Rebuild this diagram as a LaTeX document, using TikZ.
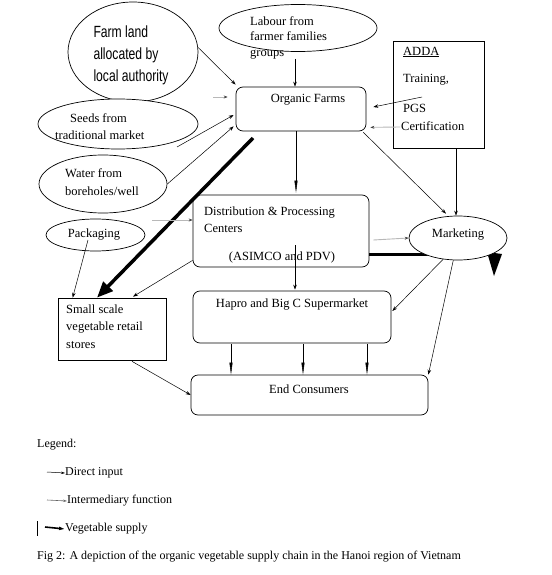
\documentclass[tikz,border=0pt]{standalone}
\usepackage{fontspec}
\setmainfont{Liberation Serif}
\newfontfamily\arialf{Liberation Sans}
\usetikzlibrary{arrows.meta,calc,shapes.geometric}
\begin{document}
\begin{tikzpicture}[x=1pt,y=-1pt,
  every node/.style={font=\fontsize{12.5}{15}\selectfont, inner sep=0pt},
  shp/.style={draw, line width=0.7pt, fill=white},
  ell/.style={shp, ellipse},
  rbox/.style={shp, rectangle, rounded corners=7pt},
  sbox/.style={shp, rectangle},
  txt/.style={anchor=west, align=left},
  legtxt/.style={txt, font=\fontsize{12}{14}\selectfont},
  arr/.style={line width=0.5pt, -{Stealth[length=5pt,width=3.5pt]}},
  larr/.style={line width=0.5pt, -{Triangle[length=12pt,width=3pt]}},
  garr/.style={line width=0.9pt, draw=black!28, -{Stealth[length=4pt,width=3pt,color=black!75]}},
  vsup/.style={line width=3.5pt, -{Triangle[length=16pt,width=13pt]}}
]
\useasboundingbox (0,0) rectangle (551,575);
\fill[white] (0,0) rectangle (551,575);

% inputs
\node[ell, minimum width=130pt, minimum height=100pt] (farm) at (133,52) {};
\node (farmt) at (131,55) {\scalebox{0.9}[1.2]{\arialf\fontsize{13.5}{18.3}\selectfont
      \begin{tabular}{@{}l@{}}Farm land\\allocated by\\local authority\end{tabular}}};
\node[ell, minimum width=158pt, minimum height=47pt] (lab) at (298,28) {};
\node[txt, font=\fontsize{12.5}{15.5}\selectfont] (labt) at (250,37.5)
      {Labour from\\farmer families\\groups};
\node[rbox, minimum width=130pt, minimum height=44pt] (of) at (301,109) {};
\node (oft) at (308,100) {Organic Farms};
\node[sbox, minimum width=91pt, minimum height=107pt] (adda) at (438.5,94.5) {};
\node[txt] (addat) at (403,52) {\underline{ADDA}};
\node[txt] (train) at (403,80) {Training,};
\node[txt] (pgs) at (403,108) {PGS};
\node[txt] (cert) at (401,126) {Certification};
\node[ell, minimum width=160pt, minimum height=50pt] (seeds) at (118,124) {};
\node[txt] (seedt1) at (70,118) {Seeds from};
\node[txt] (seedt2) at (55,135) {traditional market};
\node[ell, minimum width=128pt, minimum height=58pt] (water) at (103,184) {};
\node[txt, font=\fontsize{12.5}{18}\selectfont] (watert) at (65,182)
      {Water from\\boreholes/well};
\node[ell, minimum width=99pt, minimum height=32pt] (pack) at (95.5,235) {};
\node (packt) at (94,235) {Packaging};

% chain
\node[rbox, minimum width=176pt, minimum height=72pt] (dist) at (281,231) {};
\node[txt, font=\fontsize{12.5}{17}\selectfont] (distt) at (204,219.5)
      {Distribution \& Processing\\Centers};
\node (distt2) at (282,257) {(ASIMCO and PDV)};

\coordinate (t2) at (490,254);
\draw[line width=3pt] ($(dist.east)+(0,23)$) -- (t2);
\fill (487,252) -- (502,254) -- (494,276) -- cycle;

\node[ell, minimum width=98pt, minimum height=44pt] (mkt) at (458,238) {};
\node (mktt) at (458,235) {Marketing};
\node[sbox, minimum width=108pt, minimum height=62pt] (small) at (112,329) {};
\node[txt, font=\fontsize{12.5}{17.5}\selectfont] (smallt) at (66,326.5)
      {Small scale\\vegetable retail\\stores};
\node[rbox, minimum width=198pt, minimum height=52pt] (hapro) at (292,317) {};
\node (haprot) at (292,305) {Hapro and Big C Supermarket};
\node[rbox, minimum width=237pt, minimum height=40pt] (endc) at (309.5,395) {};
\node (endct) at (309,389) {End Consumers};

% connectors
\draw[arr] (farm.4) -- ($(of.north west)+(0,-2)$);
\coordinate (g1) at (213,97);
\draw[garr] (g1) -- ($(of.west)+(-8,-12)$);
\coordinate (s1) at (177,147);
\draw[arr] (s1) -- ($(of.west)+(-2,6)$);
\draw[arr] (water.east) -- ($(of.south west)+(-2,-5)$);
\coordinate (l1) at (295,59);
\draw[arr] (l1) -- (l1 |- of.north);
\coordinate (a1) at (422,97);
\draw[arr] (a1) -- ($(of.east)+(7,-2)$);
\coordinate (a2) at (400,127);
\draw[garr] (a2) -- ($(of.south east)+(4,-4)$);
\draw[larr] ($(of.south)+(-5,0)$) -- ($(dist.north)+(15,-2)$);
\draw[arr] ($(of.south east)+(-3,1)$) -- ($(mkt.north)+(-12,-2)$);
\coordinate (a3) at ($(adda.south)+(17.5,0)$);
\draw[arr] (a3) -- (a3 |- mkt.north);
\coordinate (t1) at (253,138);
\draw[vsup] (t1) -- ($(small.north)+(-15,0)$);
\coordinate (g2) at (152,220);
\draw[garr] (g2) -- ($(dist.west)+(0,-11)$);
\draw[garr] ($(dist.east)+(4,9)$) -- (mkt.west);
\draw[arr] (mkt.235) -- ($(hapro.east)+(1,-6)$);
\draw[arr] (mkt.258) -- (endc.north east);
\coordinate (d1) at (295,245);
\draw[arr] (d1) -- ($(d1 |- hapro.north)+(0,-1)$);
\draw[arr] ($(dist.south west)+(0,-7)$) -- ($(small.north)+(21,-1)$);
\coordinate (p1) at (88,240);
\draw[arr] (p1) -- ($(small.north west)+(15,0)$);
\foreach \dx [count=\i] in {-61,11,75} {
  \coordinate (h\i) at ($(hapro.south)+(\dx,1)$);
  \draw[larr] (h\i) -- (h\i |- endc.north);
}
\draw[arr] ($(small.south)+(20,1)$) -- (endc.west);

% legend
\node[legtxt] (leg) at (37,445) {Legend:};
\node[legtxt] (leg1) at (65,473) {Direct input};
\coordinate (l1a) at (47,472);
\draw[line width=0.5pt, -{Stealth[length=4pt,width=2.5pt]}] (l1a) -- (leg1.west);
\node[legtxt] (leg2) at (67,501) {Intermediary function};
\coordinate (l2a) at (47,500);
\draw[line width=0.6pt, draw=black!60, -{Stealth[length=4pt,width=2.5pt]}] (l2a) -- (leg2.west);
\node[legtxt] (leg3) at (65,529) {Vegetable supply};
\coordinate (l3a) at (45,527);
\coordinate (bar1) at (37,521);
\coordinate (bar2) at (37,536);
\draw[line width=0.7pt] (bar1) -- (bar2);
\draw[line width=1.6pt, -{Triangle[length=6pt,width=3pt]}] (l3a) -- (leg3.west);
\node[legtxt] (cap) at (37,557) {Fig 2: A depiction of the organic vegetable supply chain in the Hanoi region of Vietnam};
\end{tikzpicture}
\end{document}
